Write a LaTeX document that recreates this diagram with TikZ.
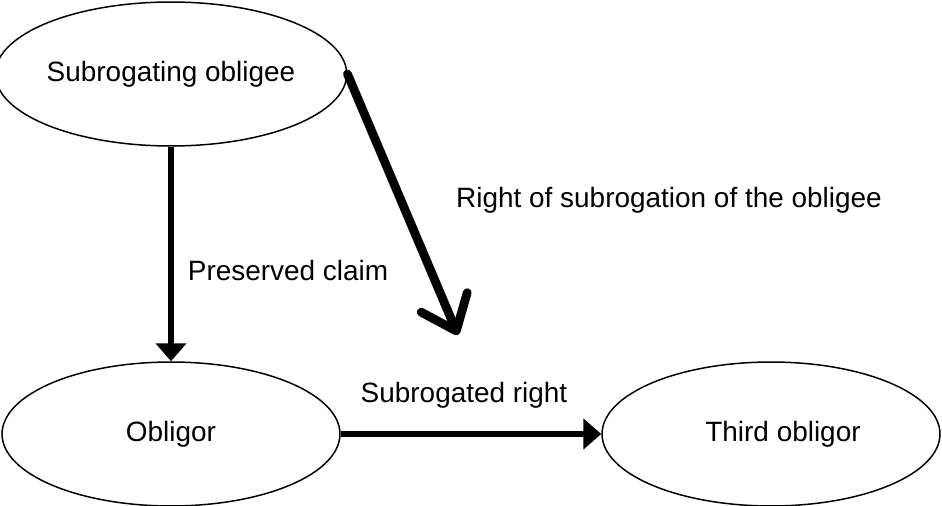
\documentclass[tikz,border=0pt]{standalone}
\usepackage{fontspec}
\setmainfont{Liberation Sans}
\usetikzlibrary{arrows.meta, shapes.geometric}

\begin{document}
\begin{tikzpicture}[
            x = 0.02cm, y = -0.02cm, % pixel grid, y running down
            > = {Triangle[length=0.36cm, width=0.6cm]}, % arrow head style
            font = \fontsize{15.9pt}{19pt}\selectfont,
            thick % line style
        ]

        \tikzstyle{party}=[
            ellipse,
            draw = black,
            line width = 0.85pt,
            inner sep = 0pt,
            minimum width = 6.76cm,
            minimum height = 2.88cm
        ]
        \tikzstyle{flow}=[->, line width = 3.1pt]
        \tikzstyle{claim}=[
            line width = 5pt,
            line cap = round,
            -{Straight Barb[length=0.62cm, width=1.0cm, round]}
        ]
        \tikzstyle{tag}=[anchor = base, inner sep = 0pt]

        \useasboundingbox (0, 0) rectangle (942, 506);

        \node[party] (S) at (171, 74) {Subrogating obligee};
        \node[party] (O) at (171, 434) {Obligor};
        \node[party] (T) at (771, 434) {\hspace{0.48cm}Third obligor};
        \coordinate (tip) at (458, 335);

        \draw[flow] (S) -- (O);
        \draw[flow] (O) -- (T);
        \draw[claim] (S.east) -- (tip);

        \node[tag] (rs) at (669, 208) {Right of subrogation of the obligee};
        \node[tag] (pc) at (288, 280) {Preserved claim};
        \node[tag] (sr) at (464, 402) {Subrogated right};

        %\draw[red, dashed] (0, 435) -- (942, 435);
    \end{tikzpicture}
\end{document}
